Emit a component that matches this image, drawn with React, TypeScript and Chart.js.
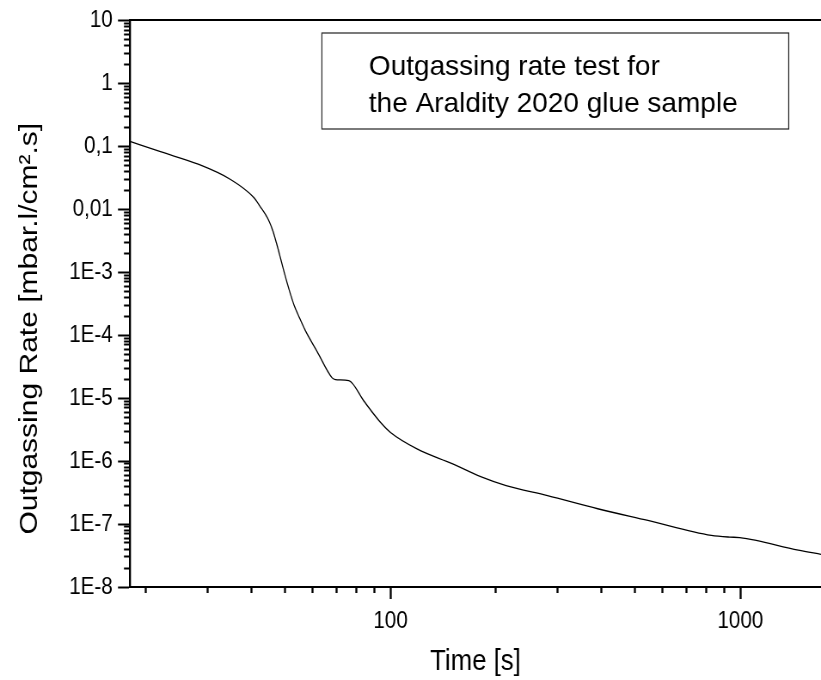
import React, { useEffect, useRef } from 'react';
import { Chart, registerables } from 'chart.js';

Chart.register(...registerables);

// ---- data ----
const timeS = [
  18, 22, 28.2, 34.8, 40.6, 42.45, 43.86, 45.04, 46.09, 47.16, 48.42, 49.72, 51.22,
  52.95, 54.9, 57.1, 61.7, 68.1, 69.6, 76.0, 83.9, 93.7, 100, 119.4, 150, 181, 214,
  281, 391, 544, 826, 933, 996, 1464, 1700,
];
const outgassingRate = [
  0.12, 0.082, 0.052, 0.03, 0.0155, 0.01094, 0.00834, 0.00634, 0.00457, 0.00296,
  0.001714, 9.76e-4, 5.45e-4, 3.05e-4, 1.9e-4, 1.18e-4, 5.5e-5, 2.1e-5, 1.97e-5,
  1.9e-5, 9.0e-6, 4.1e-6, 2.85e-6, 1.55e-6, 9.1e-7, 5.65e-7, 4.07e-7, 2.83e-7,
  1.75e-7, 1.14e-7, 6.6e-8, 6.2e-8, 6.1e-8, 3.85e-8, 3.3e-8,
];

const yMajorTicks = [1e-8, 1e-7, 1e-6, 1e-5, 1e-4, 1e-3, 0.01, 0.1, 1, 10];
const yMajorLabels = ['1E-8', '1E-7', '1E-6', '1E-5', '1E-4', '1E-3', '0,01', '0,1', '1', '10'];
const yMinorMultipliers = [2, 3, 4, 5, 6, 7, 8, 9];
const xMajorTicks = [100, 1000];
const xMajorLabels = ['100', '1000'];
const xMinorTicks = [20, 30, 40, 50, 60, 70, 80, 90, 200, 300, 400, 500, 600, 700, 800, 900];

const xTitle = 'Time [s]';
const yTitle = 'Outgassing Rate [mbar.l/cm\u00b2.s]';
const noteLines = ['Outgassing rate test for', 'the Araldity 2020 glue sample'];

const X_MIN = 18;
const X_MAX = 1700;
const Y_MIN = 1e-8;
const Y_MAX = 10;

// ---- layout ----
const W = 821;
const H = 680;
const S = 0.86; // horizontal squeeze of the original picture
const LW = Math.round(W / S);
const FONT = '"Liberation Sans", Arial, Helvetica, sans-serif';

const yMinorTicks: number[] = [];
for (let i = 0; i < yMajorTicks.length - 1; i++) {
  for (const m of yMinorMultipliers) yMinorTicks.push(yMajorTicks[i] * m);
}

const noteBox = {
  id: 'noteBox',
  afterDraw(chart: any) {
    const { ctx } = chart;
    ctx.save();
    ctx.strokeStyle = '#222';
    ctx.lineWidth = 1.2;
    ctx.strokeRect(322 / S, 33, (789 - 322) / S, 96);
    // the note text is not squeezed in the original
    ctx.scale(1 / S, 1);
    ctx.fillStyle = '#000';
    ctx.font = `28px ${FONT}`;
    ctx.textBaseline = 'alphabetic';
    ctx.textAlign = 'left';
    noteLines.forEach((t, i) => ctx.fillText(t, 369, 75 + i * 37));
    ctx.restore();
  },
};

export default function App() {
  const ref = useRef<HTMLCanvasElement>(null);

  useEffect(() => {
    if (!ref.current) return;
    const chart = new Chart(ref.current, {
      type: 'line',
      data: {
        datasets: [
          {
            data: timeS.map((t, i) => ({ x: t, y: outgassingRate[i] })),
            xAxisID: 'x',
            yAxisID: 'y',
            borderColor: '#000',
            borderWidth: 1.3,
            pointRadius: 0,
            cubicInterpolationMode: 'monotone',
            fill: false,
          },
        ],
      },
      options: {
        responsive: false,
        animation: false,
        devicePixelRatio: 1,
        layout: { padding: { top: 17, left: 0, right: 0, bottom: 0 } },
        plugins: { legend: { display: false }, tooltip: { enabled: false }, title: { display: false } },
        scales: {
          x: {
            type: 'logarithmic',
            position: 'bottom',
            weight: 1,
            min: X_MIN,
            max: X_MAX,
            afterBuildTicks: (s: any) => {
              s.ticks = xMajorTicks.map((v) => ({ value: v, major: true }));
            },
            afterFit: (s: any) => {
              s.height = H - 587;
            },
            grid: { display: true, drawOnChartArea: false, drawTicks: true, tickLength: 12, tickWidth: 2 / S, tickColor: '#000' },
            border: { display: true, color: '#000', width: 2 },
            ticks: {
              display: true,
              autoSkip: false,
              maxRotation: 0,
              padding: 8,
              color: '#000',
              font: { family: FONT, size: 24 },
              callback: (_v: any, i: number) => xMajorLabels[i],
            },
            title: { display: true, text: xTitle, color: '#000', font: { family: FONT, size: 30 }, padding: { top: 0, bottom: 0 } },
          },
          xMinor: {
            type: 'logarithmic',
            position: 'bottom',
            weight: 0,
            min: X_MIN,
            max: X_MAX,
            afterBuildTicks: (s: any) => {
              s.ticks = xMinorTicks.map((v) => ({ value: v }));
            },
            afterFit: (s: any) => {
              s.height = 0;
            },
            grid: { display: true, drawOnChartArea: false, drawTicks: true, tickLength: 6, tickWidth: 2 / S, tickColor: '#000' },
            border: { display: false },
            ticks: { display: false },
          },
          xTop: {
            type: 'linear',
            position: 'top',
            min: 0,
            max: 1,
            afterFit: (s: any) => {
              s.height = 0;
            },
            grid: { display: false },
            border: { display: true, color: '#000', width: 2 },
            ticks: { display: false },
          },
          y: {
            type: 'logarithmic',
            position: 'left',
            weight: 1,
            min: Y_MIN,
            max: Y_MAX,
            afterBuildTicks: (s: any) => {
              s.ticks = yMajorTicks.map((v) => ({ value: v, major: true }));
            },
            afterFit: (s: any) => {
              s.width = 130 / S;
            },
            grid: { display: true, drawOnChartArea: false, drawTicks: true, tickLength: 12 / S, tickWidth: 2, tickColor: '#000' },
            border: { display: true, color: '#000', width: 2 / S },
            ticks: {
              display: true,
              autoSkip: false,
              padding: 6,
              color: '#000',
              font: { family: FONT, size: 24 },
              callback: (_v: any, i: number) => yMajorLabels[i],
            },
            title: {
              display: true,
              text: yTitle + '      ',
              color: '#000',
              font: { family: FONT, size: 30 },
              padding: { top: 17, bottom: 0 },
            },
          },
          yMinor: {
            type: 'logarithmic',
            position: 'left',
            weight: 0,
            min: Y_MIN,
            max: Y_MAX,
            afterBuildTicks: (s: any) => {
              s.ticks = yMinorTicks.map((v) => ({ value: v }));
            },
            afterFit: (s: any) => {
              s.width = 0;
            },
            grid: { display: true, drawOnChartArea: false, drawTicks: true, tickLength: 6 / S, tickWidth: 2, tickColor: '#000' },
            border: { display: false },
            ticks: { display: false },
          },
        },
      } as any,
      plugins: [noteBox],
    });
    return () => chart.destroy();
  }, []);

  return (
    <div
      style={{
        position: 'absolute',
        left: 0,
        top: 0,
        width: W,
        height: H,
        overflow: 'hidden',
        background: '#fff',
      }}
    >
      <canvas
        ref={ref}
        width={LW}
        height={H}
        style={{ width: `${W}px`, height: `${H}px`, display: 'block' }}
      />
    </div>
  );
}
